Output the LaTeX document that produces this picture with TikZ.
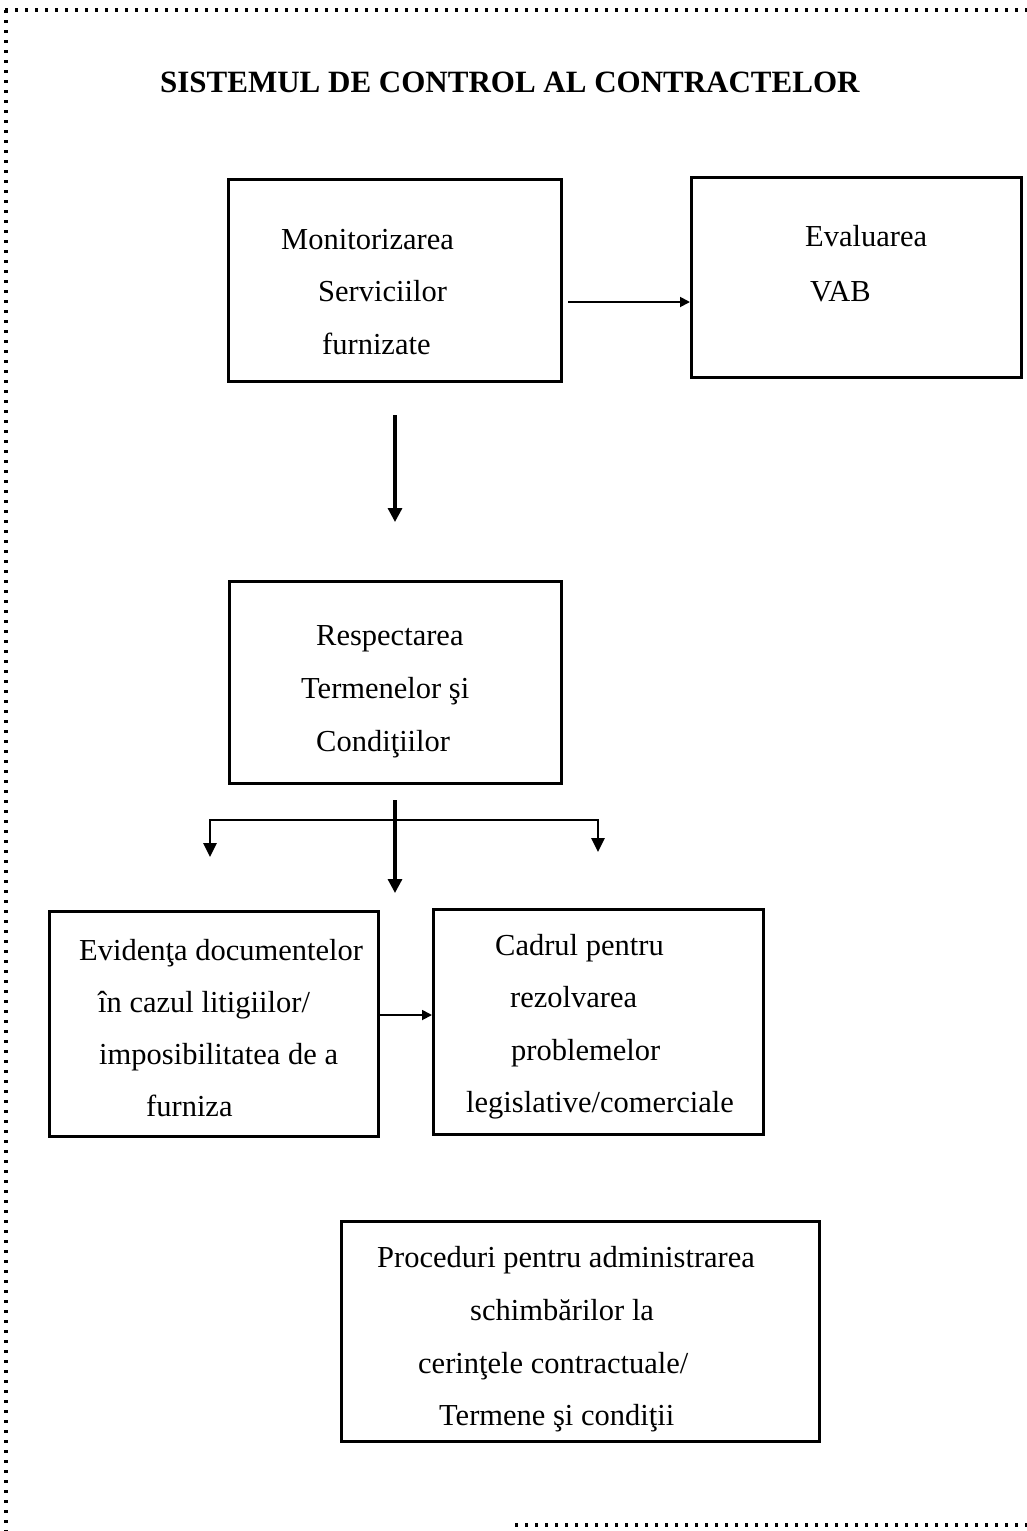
\documentclass[tikz,border=0pt]{standalone}
\usepackage{fontspec}
\setmainfont{Liberation Serif}
\usetikzlibrary{arrows.meta,calc}
\begin{document}
\begin{tikzpicture}[x=1pt,y=-1pt,
 box/.style={draw,line width=2.8pt,inner sep=0pt,anchor=north west},
 txt/.style={anchor=base west,inner sep=0pt,font=\fontsize{30.5}{36}\selectfont},
 bigarrow/.style={line width=3.2pt,-{Triangle[length=14pt,width=14pt]}},
 brancharrow/.style={line width=2.6pt,-{Triangle[length=14pt,width=13pt]}},
 smallarrow/.style={line width=1.8pt,-{Triangle[length=10pt,width=10pt]}},
 border/.style={line width=3.2pt,dash pattern=on 2.5pt off 7.5pt}]
\useasboundingbox (0,0) rectangle (1027,1531);
% dotted frame
\draw[border] (5,10) -- (1027,10);
\draw[border] (6,10) -- (6,1531);
\draw[border] (515,1525) -- (1027,1525);
% title
\node[anchor=base west,inner sep=0pt,font=\bfseries\fontsize{31}{36}\selectfont] (title) at (160,92) {SISTEMUL DE CONTROL AL CONTRACTELOR};
% boxes
\node[box,minimum width=333pt,minimum height=202pt] (mon) at (227,178) {};
\node[box,minimum width=330pt,minimum height=200pt] (vab) at (690,176) {};
\node[box,minimum width=332pt,minimum height=202pt] (resp) at (228,580) {};
\node[box,minimum width=329pt,minimum height=225pt] (evid) at (48,910) {};
\node[box,minimum width=330pt,minimum height=225pt] (cadru) at (432,908) {};
\node[box,minimum width=478pt,minimum height=220pt] (proc) at (340,1220) {};
% texts
\node[txt] (m1) at (281,249) {Monitorizarea};
\node[txt] (m2) at (318,301) {Serviciilor};
\node[txt] (m3) at (322,354) {furnizate};
\node[txt] (e1) at (805,246) {Evaluarea};
\node[txt] (e2) at (810,301) {VAB};
\node[txt] (r1) at (316,645) {Respectarea};
\node[txt] (r2) at (301,698) {Termenelor şi};
\node[txt] (r3) at (316,751) {Condiţiilor};
\node[txt] (d1) at (79,960) {Evidenţa documentelor};
\node[txt] (d2) at (98,1012) {în cazul litigiilor/};
\node[txt] (d3) at (99,1064) {imposibilitatea de a};
\node[txt] (d4) at (146,1116) {furniza};
\node[txt] (c1) at (495,955) {Cadrul pentru};
\node[txt] (c2) at (510,1007) {rezolvarea};
\node[txt] (c3) at (511,1060) {problemelor};
\node[txt] (c4) at (466,1112) {legislative/comerciale};
\node[txt] (p1) at (377,1267) {Proceduri pentru administrarea};
\node[txt] (p2) at (470,1320) {schimbărilor la};
\node[txt] (p3) at (418,1373) {cerinţele contractuale/};
\node[txt] (p4) at (439,1425) {Termene şi condiţii};
% connectors
\coordinate (a1) at (568,302);
\draw[smallarrow] (a1) -- (a1 -| vab.west);
\coordinate (ds) at (395,415);
\coordinate (de) at (395,522);
\draw[bigarrow] (ds) -- (de);
\coordinate (fs) at (395,800);
\coordinate (fm) at (395,893);
\coordinate (fy) at (395,820);
\coordinate (fl) at (210,857);
\coordinate (fr) at (598,852);
\draw[bigarrow] (fs) -- (fm);
\draw[brancharrow] (fy) -| (fl);
\draw[brancharrow] (fy) -| (fr);
\coordinate (b1) at (377,1015);
\draw[smallarrow] (b1) -- (b1 -| cadru.west);
\end{tikzpicture}
\end{document}
